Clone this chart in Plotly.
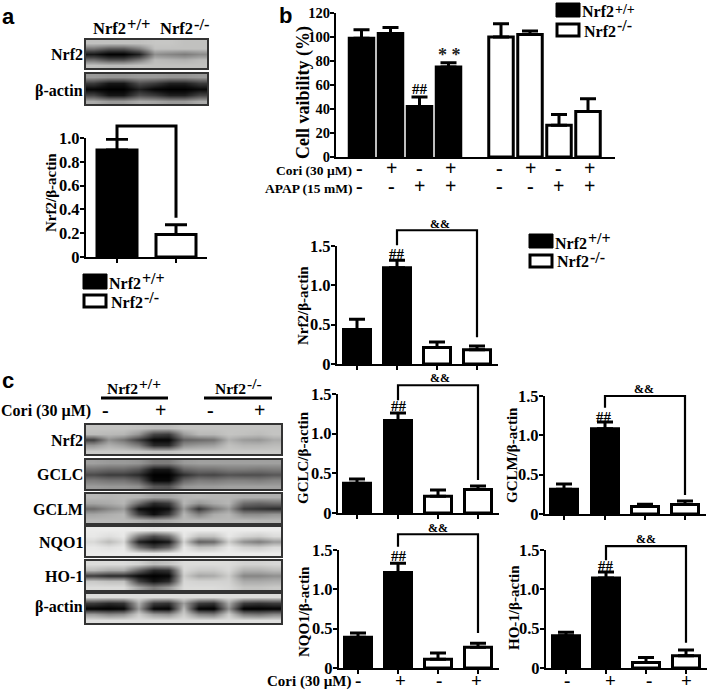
import plotly.graph_objects as go

W, H = 709, 693
SERIF = "Liberation Serif"

# ---------- data ----------
a_vals = [0.90, 0.19]
a_errs = [0.09, 0.08]
a_fill = ["k", "w"]

b_vals = [99, 103, 42, 75, 100, 102, 26.5, 38]
b_errs = [7, 5, 8, 3.5, 11, 3, 9, 10.5]
b_fill = ["k", "k", "k", "k", "w", "w", "w", "w"]
b_cori = ["-", "+", "-", "+", "-", "+", "-", "+"]
b_apap = ["-", "-", "+", "+", "-", "-", "+", "+"]

fill4 = ["k", "k", "w", "w"]
nrf2_vals = [0.44, 1.225, 0.21, 0.18]
nrf2_errs = [0.13, 0.095, 0.07, 0.05]
gclc_vals = [0.375, 1.165, 0.21, 0.295]
gclc_errs = [0.055, 0.095, 0.08, 0.045]
gclm_vals = [0.315, 1.085, 0.095, 0.12]
gclm_errs = [0.065, 0.085, 0.03, 0.045]
nqo1_vals = [0.39, 1.215, 0.11, 0.265]
nqo1_errs = [0.055, 0.115, 0.08, 0.05]
ho1_vals = [0.41, 1.145, 0.07, 0.155]
ho1_errs = [0.045, 0.075, 0.065, 0.075]
cori_signs = ["-", "+", "-", "+"]

blot_a_nrf2 = [
    [205, 205, 205, 205, 210, 210, 205, 205],
    [130, 100, 100, 140, 205, 205, 205, 205],
    [30, 5, 5, 40, 160, 150, 140, 155],
    [125, 90, 90, 135, 200, 195, 190, 200],
    [205, 200, 200, 205, 205, 205, 205, 205],
]
blot_a_actin = [
    [170, 165, 165, 170, 170, 165, 165, 170],
    [70, 30, 30, 90, 70, 40, 40, 70],
    [10, 0, 0, 40, 10, 0, 0, 15],
    [80, 30, 30, 90, 70, 40, 40, 80],
    [185, 170, 170, 185, 180, 170, 170, 185],
]
blot_c_nrf2 = [
    [208, 208, 208, 205, 200, 200, 208, 208, 208, 208, 208, 208, 208],
    [200, 198, 195, 165, 80, 70, 170, 198, 198, 208, 205, 200, 208],
    [70, 160, 130, 70, 10, 10, 110, 120, 130, 190, 170, 165, 185],
    [165, 190, 175, 140, 50, 50, 160, 170, 175, 205, 195, 195, 200],
    [212, 212, 212, 210, 205, 205, 212, 212, 212, 212, 212, 212, 212],
]
blot_c_gclc = [
    [175, 170, 170, 165, 140, 140, 170, 175, 175, 175, 175, 175, 175],
    [130, 120, 120, 100, 30, 30, 115, 130, 130, 140, 140, 135, 140],
    [85, 70, 70, 50, 0, 0, 55, 85, 80, 95, 90, 90, 100],
    [140, 130, 130, 105, 10, 10, 115, 140, 135, 145, 145, 140, 150],
    [172, 168, 168, 160, 100, 95, 165, 172, 172, 176, 176, 176, 176],
]
blot_c_gclm = [
    [198, 195, 198, 195, 180, 180, 195, 198, 195, 195, 190, 190, 190],
    [180, 185, 195, 125, 50, 70, 195, 165, 185, 195, 125, 115, 125],
    [120, 150, 170, 20, 5, 20, 170, 60, 130, 170, 70, 60, 50],
    [180, 188, 195, 75, 20, 65, 195, 145, 185, 195, 155, 155, 165],
    [198, 198, 198, 190, 180, 185, 198, 198, 198, 198, 198, 195, 195],
]
blot_c_nqo1 = [
    [240, 240, 240, 238, 235, 238, 240, 240, 240, 240, 240, 240, 240],
    [238, 230, 238, 140, 85, 125, 238, 205, 205, 238, 222, 215, 228],
    [225, 200, 225, 40, 10, 30, 220, 110, 120, 215, 160, 140, 170],
    [238, 232, 238, 130, 75, 115, 238, 205, 210, 238, 220, 215, 228],
    [240, 240, 240, 238, 235, 238, 240, 240, 240, 240, 240, 240, 240],
]
blot_c_ho1 = [
    [228, 228, 228, 220, 200, 208, 228, 228, 228, 228, 220, 220, 224],
    [200, 185, 185, 115, 50, 60, 225, 212, 212, 225, 190, 190, 200],
    [70, 50, 50, 15, 0, 10, 215, 180, 185, 215, 150, 150, 160],
    [212, 205, 205, 75, 25, 50, 224, 220, 220, 220, 185, 185, 190],
    [228, 228, 228, 180, 140, 170, 228, 228, 228, 224, 208, 208, 212],
]
blot_c_actin = [
    [228, 228, 228, 228, 228, 228, 228, 228, 228, 228, 228, 228, 228],
    [70, 50, 60, 190, 70, 60, 175, 70, 60, 185, 70, 60, 70],
    [5, 0, 10, 170, 10, 5, 200, 5, 0, 160, 0, 0, 5],
    [170, 150, 160, 215, 170, 160, 215, 150, 140, 215, 140, 130, 150],
    [230, 230, 230, 230, 230, 230, 230, 230, 230, 230, 230, 230, 230],
]

# ---------- pixel helpers ----------
px = lambda x: x / W
py = lambda y: 1 - y / H

fig = go.Figure()
layout_axes = {}
notes = []
shapes = []
n_axes = [0]


def text(x, y, s, size=16, anchor="center", angle=0, family=SERIF, color="black"):
    notes.append(dict(x=px(x), y=py(y), xref="paper", yref="paper", text=s, showarrow=False,
                      xanchor=anchor, yanchor="middle", textangle=angle,
                      font=dict(family=family, size=size, color=color), borderpad=0, borderwidth=0,
                      align="center"))


def bold(s):
    return "<b>" + s + "</b>"


def geno(x, y, sup, size=16, sup_size=None, sup_dy=5):
    """'Nrf2' with a raised genotype mark, as in the figure."""
    text(x, y, bold("Nrf2"), size, "left")
    text(x + 2.03 * size + 1, y - sup_dy, bold(sup), sup_size or size, "left")


def new_axes(x0, x1, ytop, ybot):
    n_axes[0] += 1
    i = n_axes[0]
    sfx = "" if i == 1 else str(i)
    xa = dict(domain=[px(x0), px(x1)], anchor="y" + sfx, automargin=False)
    ya = dict(domain=[py(ybot), py(ytop)], anchor="x" + sfx, automargin=False)
    layout_axes["xaxis" + sfx] = xa
    layout_axes["yaxis" + sfx] = ya
    return "x" + sfx, "y" + sfx, xa, ya


def bar_panel(vals, errs, fills, centres, box, ymax, yticks, ylabels, barw, cap, bracket=None,
              xticks=True, tick_size=16, standoff=-3, bracket_width=2.2):
    x0, x1, ytop, ybot = box
    xr, yr, xa, ya = new_axes(x0, x1, ytop, ybot)
    xa.update(range=[x0, x1], showline=True, linecolor="black", linewidth=2.4, zeroline=False,
              showgrid=False, showticklabels=False, fixedrange=True,
              tickmode="array", tickvals=centres if xticks else [], ticks="outside" if xticks else "",
              ticklen=4, tickwidth=2, tickcolor="black")
    ya.update(range=[0, ymax], showline=True, linecolor="black", linewidth=2.4, zeroline=False,
              showgrid=False, fixedrange=True, tickmode="array", tickvals=yticks, ticktext=ylabels,
              ticks="outside", ticklen=4, tickwidth=2, tickcolor="black", ticklabelstandoff=standoff,
              tickfont=dict(family=SERIF, size=tick_size, color="black", weight="bold"))
    fig.add_bar(x=centres, y=vals, xaxis=xr, yaxis=yr, width=barw,
                marker=dict(color=["black" if f == "k" else "white" for f in fills],
                            line=dict(color="black", width=3)),
                error_y=dict(type="data", symmetric=False, array=errs, arrayminus=[0] * len(errs),
                             color="black", thickness=3, width=cap),
                showlegend=False, hoverinfo="skip")
    if bracket:
        xl, xrr, top, bl, br = bracket
        # same data scale as the panel, on a hidden axis that reaches above the top tick
        extra = 30
        h = ybot - ytop
        xr2, yr2, xa2, ya2 = new_axes(x0, x1, ytop - extra, ybot)
        xa2.update(range=[x0, x1], visible=False, fixedrange=True)
        ya2.update(range=[0, ymax * (h + extra) / h], visible=False, fixedrange=True)
        fig.add_scatter(x=[xl, xl, xrr, xrr], y=[bl, top, top, br], mode="lines", xaxis=xr2, yaxis=yr2,
                        line=dict(color="black", width=bracket_width), showlegend=False, hoverinfo="skip")


def blot(z, box):
    xr, yr, xa, ya = new_axes(*box)
    opts = dict(showline=True, mirror=True, linecolor="#333333", linewidth=1.6, showticklabels=False,
                ticks="", showgrid=False, zeroline=False, fixedrange=True)
    xa.update(opts)
    ya.update(opts)
    ya.update(autorange="reversed")
    fig.add_heatmap(z=z, xaxis=xr, yaxis=yr, colorscale="Gray", zmin=0, zmax=255, zsmooth="best",
                    showscale=False, hoverinfo="skip")


def legend(x0, x1, y0, y1, y2, y3, tx, size=16, sup_size=None, sup_dy=5):
    shapes.append(dict(type="rect", xref="paper", yref="paper", x0=px(x0), x1=px(x1), y0=py(y0), y1=py(y1),
                       fillcolor="black", line=dict(color="black", width=1)))
    shapes.append(dict(type="rect", xref="paper", yref="paper", x0=px(x0 + 1), x1=px(x1 - 1), y0=py(y2 + 1), y1=py(y3 - 1),
                       fillcolor="white", line=dict(color="black", width=3)))
    geno(tx, (y0 + y1) / 2 + 2, "+/+", size, sup_size, sup_dy)
    geno(tx + 2, (y2 + y3) / 2 + 1, "-/-", size)


# ---------- panel a ----------
blot(blot_a_nrf2, (86, 207, 40, 68))
blot(blot_a_actin, (86, 207, 74, 104))
geno(93, 29, "+/+", 16.5)
geno(160, 29, "-/-", 16.5)
text(83, 54, bold("Nrf2"), 16, "right")
text(83, 91, bold("β-actin"), 16, "right")
bar_panel(a_vals, a_errs, a_fill, [117, 176], (86, 207, 138, 257), 1.0,
          [0, 0.2, 0.4, 0.6, 0.8, 1.0], ["0", "0.2", "0.4", "0.6", "0.8", "1.0"], 40, 11,
          bracket=(117, 176, 1.10, 1.0, 0.33), tick_size=16.5, bracket_width=3)
text(51, 193, bold("Nrf2/β-actin"), 15, angle=-90)
legend(83, 107, 274, 289, 294, 308, 109)
text(8, 17, bold("a"), 22, family="Liberation Sans")

# ---------- panel b ----------
b_x = [361.5, 390.5, 419.5, 448.5, 501, 530, 559, 588]
bar_panel(b_vals, b_errs, b_fill, b_x, (336, 615, 13, 157), 120,
          [0, 20, 40, 60, 80, 100, 120], ["0", "20", "40", "60", "80", "100", "120"], 24.5, 8,
          xticks=False, tick_size=14.5)
text(303, 93, bold("Cell vaibility (%)"), 18, angle=-90)
text(420, 89, bold("##"), 15)
text(449, 55, bold("* *"), 18, color="#222222")
text(285, 16, bold("b"), 22, family="Liberation Sans")
legend(556, 580, 3, 17, 23, 37, 582, sup_size=14, sup_dy=3)
text(352, 170, bold("Cori (30 µM)"), 13.5, "right")
text(352, 188, bold("APAP (15 mM)"), 13.5, "right")
b_sign_x = [359, 391, 419, 450, 499, 530, 558, 589]
for sx, c, a in zip(b_sign_x, b_cori, b_apap):
    text(sx, 168, bold(c), 20)
    text(sx, 186, bold(a), 20)

# ---------- small bar panels ----------
t15 = [0, 0.5, 1.0, 1.5]
l15 = ["0", "0.5", "1.0", "1.5"]
specs = [
    (nrf2_vals, nrf2_errs, [357, 397, 437, 477], (337, 498, 246, 364), (1.70, 1.51, 0.34), "Nrf2/β-actin",
     (303, 306), (440, 224), (397, 254)),
    (gclc_vals, gclc_errs, [357, 398, 438, 478], (338, 499, 394, 513), (1.61, 1.42, 0.415), "GCLC/β-actin",
     (303, 458), (440, 378), (399, 406)),
    (gclm_vals, gclm_errs, [564, 605, 645, 685], (545, 706, 396, 514), (1.50, 1.35, 0.24), "GCLM/β-actin",
     (512, 455), (644, 389), (604, 417)),
    (nqo1_vals, nqo1_errs, [358, 398, 438, 478], (339, 499, 550, 668), (1.70, 1.54, 0.445), "NQO1/β-actin",
     (304, 612), (438, 528), (399, 556)),
    (ho1_vals, ho1_errs, [566, 606, 646, 686], (546, 707, 550, 668), (1.55, 1.37, 0.32), "HO-1/β-actin",
     (514, 608), (646, 539), (606, 566)),
]
for vals, errs, cx, box, br, ttl, tpos, amp, hsh in specs:
    bar_panel(vals, errs, fill4, cx, box, 1.5, t15, l15, 27, 8,
              bracket=(cx[1], cx[3], br[0], br[1], br[2]), tick_size=16.5)
    text(tpos[0], tpos[1], bold(ttl), 15, angle=-90)
    text(amp[0], amp[1], bold("&&"), 12)
    text(hsh[0], hsh[1], bold("##"), 15)
legend(529, 553, 234, 248, 254, 268, 555)

for sx, s in zip([358, 400, 439, 477], cori_signs):
    text(sx, 680.5, bold(s), 19)
for sx, s in zip([567, 610, 649, 686], cori_signs):
    text(sx, 680.5, bold(s), 19)
text(351, 681, bold("Cori (30 µM)"), 15, "right")

# ---------- panel c ----------
text(8, 380, bold("c"), 22, family="Liberation Sans")
geno(107, 388, "+/+", 15.5)
geno(215, 388, "-/-", 15.5)
for x0, x1 in [(101, 168), (204, 272)]:
    shapes.append(dict(type="line", xref="paper", yref="paper", x0=px(x0), x1=px(x1), y0=py(398), y1=py(398),
                       line=dict(color="black", width=3)))
text(1, 411, bold("Cori (30 µM)"), 16, "left")
for sx, s in zip([106, 160, 210, 259], cori_signs):
    text(sx, 410, bold(s), 20)
rows = [
    ("Nrf2", blot_c_nrf2, 425, 454, 440),
    ("GCLC", blot_c_gclc, 460, 489, 475),
    ("GCLM", blot_c_gclm, 494, 523, 509),
    ("NQO1", blot_c_nqo1, 527, 556, 542),
    ("HO-1", blot_c_ho1, 561, 590, 576),
    ("β-actin", blot_c_actin, 594, 623, 607),
]
for name, z, y0, y1, ty in rows:
    blot(z, (86, 281, y0, y1))
    text(83, ty, bold(name), 16, "right")

fig.update_layout(template="none", width=W, height=H, autosize=False,
                  margin=dict(l=0, r=0, t=0, b=0, pad=0, autoexpand=False),
                  paper_bgcolor="white", plot_bgcolor="rgba(0,0,0,0)", barmode="overlay",
                  annotations=notes, shapes=shapes, showlegend=False, **layout_axes)
fig.write_html("out.html", config=dict(displayModeBar=False),
               post_script="document.body.style.margin='0';document.body.style.overflow='hidden';")
